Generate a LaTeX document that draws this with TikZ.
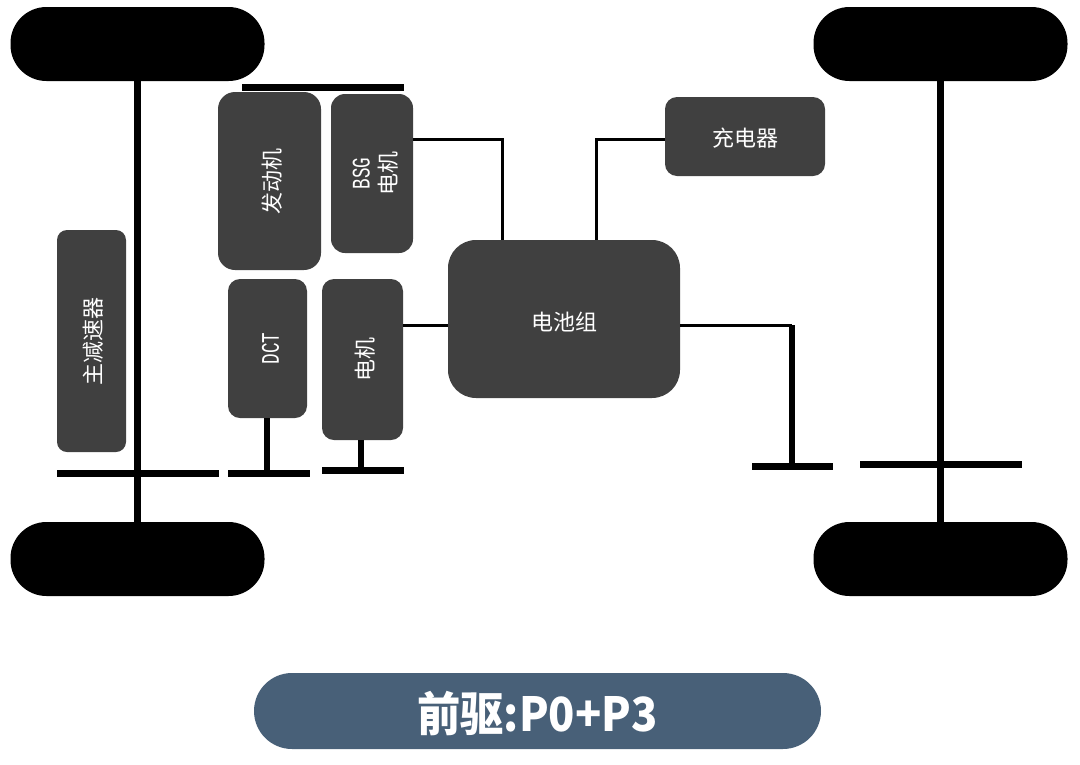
\documentclass[tikz,border=0pt]{standalone}
\usepackage{fontspec}
\setmainfont{Noto Sans CJK SC}
\newfontfamily\latinmono{Liberation Mono}
\newcommand{\vtext}[1]{\rotatebox{90}{#1}}
\newcommand{\narrowlatin}[1]{{\latinmono\scalebox{0.8}[1.15]{#1}}}
\newcommand{\lowered}[2]{\raisebox{-#1}[\height][\depth]{#2}}
\tikzset{
  px/.style={x=1pt,y=-1pt},
  wheel/.style={fill=black,rounded corners=36pt,minimum width=254pt,minimum height=74pt,inner sep=0pt},
  unit/.style={fill=boxgray,text=white,inner sep=0pt,font=\fontsize{22}{28}\selectfont,align=center},
  bar/.style={fill=black,inner sep=0pt,minimum height=7pt},
  thin link/.style={draw=black,line width=3pt},
  shaft/.style={draw=black,line width=7pt},
  stem/.style={draw=black,line width=6pt},
}
\definecolor{boxgray}{HTML}{404040}
\definecolor{titleblue}{HTML}{486078}
\begin{document}
\begin{tikzpicture}[px]
\useasboundingbox (0,0) rectangle (1080,764);
% wheels
\node[wheel] (wtl) at (137.5,44) {};
\node[wheel] (wtr) at (940.5,44) {};
\node[wheel] (wbl) at (137.5,559) {};
\node[wheel] (wbr) at (940.5,559) {};
% axles
\draw[shaft] (wtl.south) -- (wbl.north);
\draw[shaft] (wtr.south) -- (wbr.north);
% boxes
\node[unit,rounded corners=17pt,minimum width=103pt,minimum height=178pt] (engine) at (269.5,181) {\hspace{5pt}\vtext{发动机}};
\node[unit,rounded corners=14pt,minimum width=82pt,minimum height=159pt] (bsg) at (372,173.5) {\hspace{11pt}\vtext{\begin{tabular}{@{}c@{}}\narrowlatin{BSG}\\[-1pt]电机\end{tabular}}};
\node[unit,rounded corners=10pt,minimum width=69pt,minimum height=222pt] (reducer) at (91.5,341) {\hspace{3pt}\vtext{主减速器}};
\node[unit,rounded corners=12pt,minimum width=79pt,minimum height=139pt] (dct) at (267.5,348.5) {\hspace{6pt}\vtext{\narrowlatin{DCT}}};
\node[unit,rounded corners=12pt,minimum width=81pt,minimum height=161pt] (motor) at (362.5,359.5) {\hspace{5pt}\vtext{电机}};
\node[unit,rounded corners=28pt,minimum width=232pt,minimum height=158pt] (battery) at (564,319) {\lowered{3pt}{电池组}};
\node[unit,rounded corners=12pt,minimum width=160pt,minimum height=79pt] (charger) at (745,136.5) {\lowered{2pt}{充电器}};
% bars
\node[bar,minimum width=162pt] (bartop) at (323,87) {};
\node[bar,minimum width=162pt] (barl) at (138,473) {};
\node[bar,minimum width=82pt] (bardct) at (269,473) {};
\node[bar,minimum width=82pt] (barmotor) at (363,470) {};
\node[bar,minimum width=81pt] (barr) at (792.5,466) {};
\node[bar,minimum width=162pt] (barrw) at (941,464) {};
% stems
\coordinate (dctbot) at (267,418);
\coordinate (motorbot) at (361,440);
\draw[stem] (dctbot) -- (267,473);
\draw[stem] (motorbot) -- (361,470);
% electric links
\coordinate (bsgcorner) at (502.7,139);
\coordinate (chgcorner) at (596.5,139);
\coordinate (batcorner) at (792,325);
\draw[thin link] (bsg.east |- bsgcorner) -- (bsgcorner) -- (bsgcorner |- battery.north);
\draw[thin link] (charger.west |- chgcorner) -- (chgcorner) -- (chgcorner |- battery.north);
\draw[thin link] (motor.east |- batcorner) -- (battery.west |- batcorner);
\draw[thin link] (battery.east |- batcorner) -- (batcorner);
\draw[stem] (batcorner) -- (batcorner |- barr.center);
% title
\node[fill=titleblue,rounded corners=38pt,minimum width=567pt,minimum height=76pt,inner sep=0pt,text=white,font=\fontsize{47}{50}\selectfont\bfseries] (title) at (537.5,711) {\lowered{3pt}{\scalebox{0.92}[1]{前驱:P0+P3}}};
\end{tikzpicture}
\end{document}
